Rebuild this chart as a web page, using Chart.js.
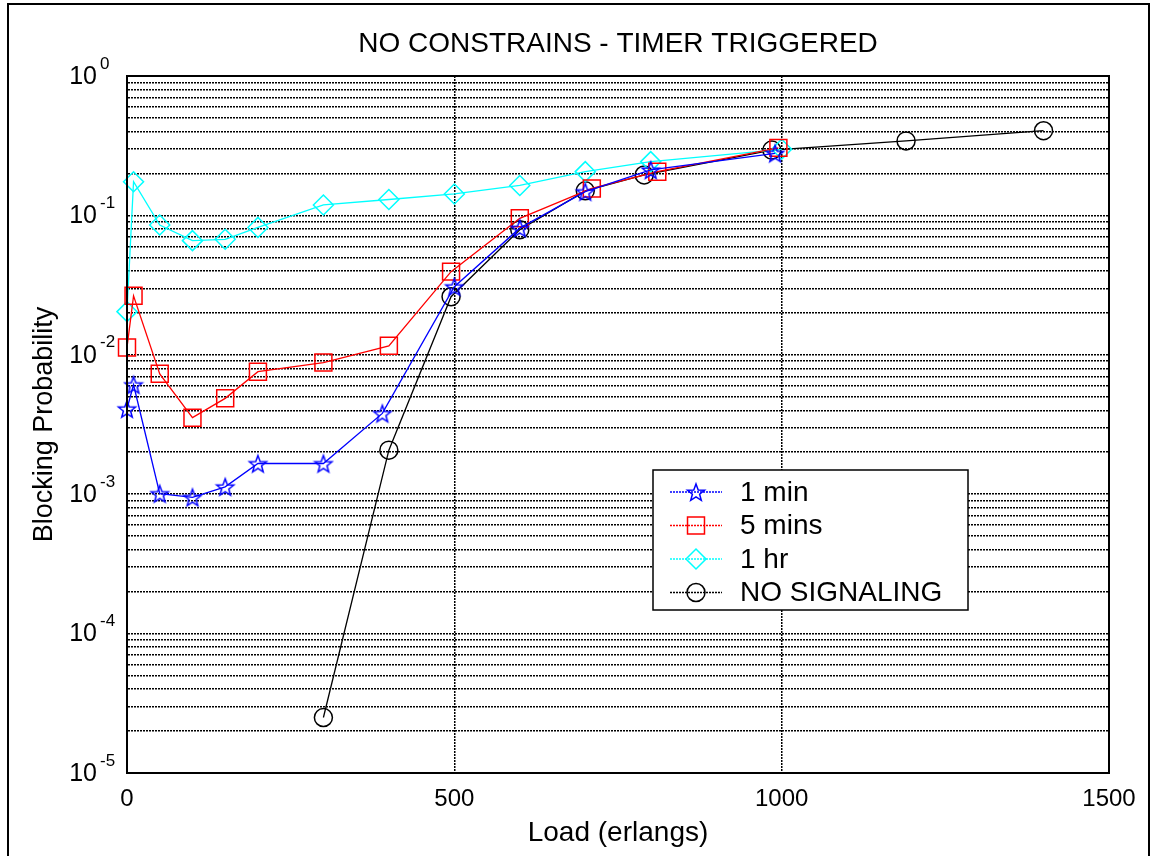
<!DOCTYPE html>
<html>
<head>
<meta charset="utf-8">
<title>No constrains - timer triggered</title>
<script src="https://cdn.jsdelivr.net/npm/chart.js@4.4.0/dist/chart.umd.min.js"></script>
<style>
  html, body { margin: 0; padding: 0; background: #fff; }
  #chart { display: block; }
</style>
</head>
<body>
<canvas id="chart" width="1152" height="856"></canvas>
<script>
// values (load in erlangs, blocking probability)
const loadOneMin = [0, 10, 50, 100, 150, 200, 300, 390, 500, 600, 700, 800, 990];
const blockOneMin = [0.0041, 0.0061, 0.00101, 0.00095, 0.00113, 0.00166, 0.00166, 0.0038, 0.0308, 0.081, 0.148, 0.212, 0.279];

const loadFiveMins = [0, 10, 50, 100, 150, 200, 300, 400, 495, 600, 710, 810, 995];
const blockFiveMins = [0.0113, 0.0265, 0.0073, 0.00354, 0.00487, 0.00757, 0.0088, 0.0116, 0.0395, 0.0953, 0.156, 0.206, 0.305];

const loadOneHr = [0, 10, 50, 100, 150, 200, 300, 400, 500, 600, 700, 800, 1000];
const blockOneHr = [0.0204, 0.1745, 0.0853, 0.0659, 0.0674, 0.082, 0.1188, 0.130, 0.1425, 0.164, 0.206, 0.243, 0.298];

const loadNoSignal = [300, 400, 495, 600, 700, 790, 985, 1190, 1400];
const blockNoSignal = [2.5e-5, 0.00207, 0.0261, 0.079, 0.150, 0.195, 0.294, 0.342, 0.405];

const seriesNames = ['1 min', '5 mins', '1 hr', 'NO SIGNALING'];
const xTicks = [0, 500, 1000, 1500];
const yDecades = [0, -1, -2, -3, -4, -5];
const yMinor = [1, 2, 3, 4, 5, 6, 7, 8, 9];

const FONT = '"Liberation Sans", Arial, Helvetica, sans-serif';

function toPoints(xs, ys) {
    return xs.map((x, i) => ({ x: x, y: ys[i] }));
}

// MATLAB-like pentagram marker
function makeStar(color, r) {
    const size = Math.ceil(r * 2 + 4);
    const c = document.createElement('canvas');
    c.width = size;
    c.height = size;
    const g = c.getContext('2d');
    g.strokeStyle = color;
    g.lineWidth = 1.5;
    g.beginPath();
    for (let i = 0; i < 10; i++) {
        const rad = i % 2 ? r * 0.42 : r;
        const a = -Math.PI / 2 + i * Math.PI / 5;
        const px = size / 2 + rad * Math.cos(a);
        const py = size / 2 + 1 + rad * Math.sin(a);
        if (i === 0) g.moveTo(px, py); else g.lineTo(px, py);
    }
    g.closePath();
    g.stroke();
    return c;
}

const starImg = makeStar('#0000ff', 9);

const datasets = [
    {
        label: seriesNames[0],
        data: toPoints(loadOneMin, blockOneMin),
        borderColor: '#0000ff',
        pointStyle: starImg,
        pointRadius: 9
    },
    {
        label: seriesNames[1],
        data: toPoints(loadFiveMins, blockFiveMins),
        borderColor: '#ff0000',
        pointStyle: 'rect',
        pointRadius: 12
    },
    {
        label: seriesNames[2],
        data: toPoints(loadOneHr, blockOneHr),
        borderColor: '#00ffff',
        pointStyle: 'rectRot',
        pointRadius: 10
    },
    {
        label: seriesNames[3],
        data: toPoints(loadNoSignal, blockNoSignal),
        borderColor: '#000000',
        pointStyle: 'circle',
        pointRadius: 9
    }
].map(ds => Object.assign(ds, {
    backgroundColor: 'transparent',
    pointBackgroundColor: 'rgba(0,0,0,0)',
    pointBorderColor: ds.borderColor,
    pointBorderWidth: 1.5,
    borderWidth: 1.3,
    tension: 0,
    clip: false
}));

// axes box, superscript tick labels, title, legend, outer frame
const decorations = {
    id: 'decorations',
    beforeDraw(chart) {
        const ctx = chart.ctx;
        ctx.save();
        ctx.fillStyle = '#fff';
        ctx.fillRect(0, 0, chart.width, chart.height);
        ctx.restore();
    },
    afterDraw(chart) {
        const ctx = chart.ctx;
        const area = chart.chartArea;
        const yScale = chart.scales.y;
        ctx.save();

        // axes box
        ctx.strokeStyle = '#000';
        ctx.lineWidth = 2;
        ctx.setLineDash([]);
        ctx.strokeRect(area.left, area.top, area.right - area.left, area.bottom - area.top);

        // y tick labels 10^k
        ctx.fillStyle = '#000';
        yDecades.forEach(k => {
            const py = yScale.getPixelForValue(Math.pow(10, k));
            ctx.font = '25px ' + FONT;
            ctx.textAlign = 'right';
            ctx.textBaseline = 'middle';
            ctx.fillText('10', area.left - 30, py + 1);
            ctx.font = '17px ' + FONT;
            ctx.textAlign = 'left';
            ctx.fillText(String(k), area.left - 27, py - 12);
        });

        // title
        ctx.font = '28px ' + FONT;
        ctx.textAlign = 'center';
        ctx.textBaseline = 'middle';
        ctx.fillText('NO CONSTRAINS - TIMER TRIGGERED', (area.left + area.right) / 2, 44);

        // legend
        const box = { x: 653, y: 470, w: 315, h: 140 };
        ctx.fillStyle = '#fff';
        ctx.fillRect(box.x, box.y, box.w, box.h);
        ctx.lineWidth = 1.5;
        ctx.strokeStyle = '#000';
        ctx.strokeRect(box.x, box.y, box.w, box.h);
        chart.data.datasets.forEach((ds, i) => {
            const ly = box.y + 22 + i * 33.5;
            ctx.strokeStyle = ds.borderColor;
            ctx.lineWidth = 1.3;
            ctx.setLineDash([2, 1]);
            ctx.beginPath();
            ctx.moveTo(box.x + 17, ly);
            ctx.lineTo(box.x + 69, ly);
            ctx.stroke();
            ctx.setLineDash([]);
            ctx.lineWidth = 1.5;
            ctx.fillStyle = 'rgba(0,0,0,0)';
            Chart.helpers.drawPoint(ctx, {
                pointStyle: ds.pointStyle,
                radius: ds.pointRadius,
                borderWidth: 1.5,
                rotation: 0
            }, box.x + 43, ly);
            ctx.fillStyle = '#000';
            ctx.font = '28px ' + FONT;
            ctx.textAlign = 'left';
            ctx.textBaseline = 'middle';
            ctx.fillText(ds.label, box.x + 87, ly + 1);
        });

        // outer frame
        ctx.strokeStyle = '#000';
        ctx.lineWidth = 2;
        ctx.strokeRect(8, 4, 1141, 900);
        ctx.restore();
    }
};

new Chart(document.getElementById('chart'), {
    type: 'line',
    data: { datasets: datasets },
    options: {
        responsive: false,
        animation: false,
        events: [],
        layout: { padding: { top: 76, right: 43, left: 0, bottom: 0 } },
        plugins: {
            legend: { display: false },
            title: { display: false },
            tooltip: { enabled: false }
        },
        scales: {
            x: {
                type: 'linear',
                min: xTicks[0],
                max: xTicks[xTicks.length - 1],
                afterBuildTicks: s => { s.ticks = xTicks.map(v => ({ value: v })); },
                afterFit: s => { s.height = 83; },
                ticks: {
                    color: '#000',
                    padding: 12,
                    maxRotation: 0,
                    font: { family: FONT, size: 24 },
                    callback: v => String(v)
                },
                grid: { color: '#000', lineWidth: 1.5, drawTicks: false, borderDash: [2, 1] },
                border: { display: true, color: '#000', width: 2, dash: [2, 1] },
                title: {
                    display: true,
                    text: 'Load (erlangs)',
                    color: '#000',
                    font: { family: FONT, size: 28 },
                    padding: { top: 0, bottom: 6 }
                }
            },
            y: {
                type: 'logarithmic',
                min: Math.pow(10, yDecades[yDecades.length - 1]),
                max: Math.pow(10, yDecades[0]),
                afterBuildTicks: s => {
                    const t = [];
                    yDecades.slice().reverse().forEach(k => {
                        yMinor.forEach(m => {
                            if (k < 0 || m === 1) t.push({ value: m * Math.pow(10, k) });
                        });
                    });
                    s.ticks = t;
                },
                afterFit: s => { s.width = 127; },
                ticks: { display: false, autoSkip: false },
                grid: { color: '#000', lineWidth: 1.5, drawTicks: false, borderDash: [2, 1] },
                border: { display: true, color: '#000', width: 2, dash: [2, 1] },
                title: {
                    display: true,
                    text: 'Blocking Probability',
                    color: '#000',
                    font: { family: FONT, size: 27 },
                    padding: { top: 28, bottom: 0 }
                }
            }
        }
    },
    plugins: [decorations]
});
</script>
</body>
</html>
